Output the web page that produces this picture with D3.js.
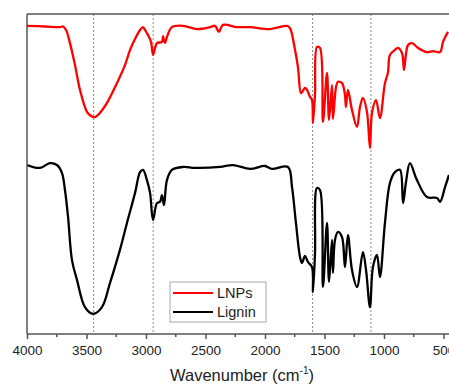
<!DOCTYPE html>
<html>
<head>
<meta charset="utf-8">
<script src="https://cdn.jsdelivr.net/npm/d3@7"></script>
<style>
  body { margin: 0; background: #fff; }
  svg { display: block; font-family: Arial, "Liberation Sans", sans-serif; }
</style>
</head>
<body>
<svg width="449" height="384"></svg>
<script>
// FTIR spectra, [wavenumber (cm-1), transmittance (a.u.)]
const lnps = [
  [4000, 96.3], [3849, 96.1], [3723, 95.9], [3697, 96.1], [3672, 95.0], [3639, 90.9],
  [3597, 84.1], [3555, 76.3], [3496, 69.4], [3462, 68.1], [3429, 67.8], [3387, 69.1],
  [3328, 72.2], [3244, 78.4], [3176, 84.1], [3134, 88.8], [3084, 92.8], [3050, 95.0],
  [3025, 95.9], [3008, 95.0], [2983, 93.4], [2958, 91.3], [2941, 87.2], [2924, 89.4],
  [2908, 90.9], [2866, 91.3], [2857, 93.1], [2849, 91.8], [2840, 90.9], [2824, 92.8],
  [2782, 95.9], [2689, 96.3], [2571, 95.3], [2462, 95.9], [2420, 96.3], [2387, 94.4],
  [2353, 96.6], [2235, 95.9], [2126, 95.9], [1958, 95.3], [1815, 96.3], [1790, 95.6],
  [1748, 88.8], [1723, 83.4], [1698, 75.3], [1681, 76.0], [1664, 76.9], [1647, 76.3],
  [1622, 74.1], [1605, 73.1], [1597, 65.9], [1580, 75.0], [1563, 89.7], [1538, 89.4],
  [1513, 66.3], [1479, 81.6], [1462, 66.9], [1437, 77.8], [1429, 67.2], [1403, 77.2],
  [1387, 78.8], [1353, 78.4], [1328, 74.7], [1320, 70.9], [1303, 76.3], [1269, 70.0],
  [1227, 64.7], [1202, 70.9], [1177, 73.8], [1143, 69.4], [1118, 58.1], [1101, 69.1],
  [1067, 73.1], [1034, 67.5], [992, 78.4], [967, 81.6], [950, 87.2], [908, 88.8],
  [883, 89.4], [849, 87.8], [832, 82.5], [815, 87.5], [798, 90.3], [765, 90.9],
  [714, 89.4], [639, 88.1], [588, 88.4], [529, 88.1], [504, 91.3], [462, 94.4]
];

const lignin = [
  [4000, 52.8], [3891, 51.9], [3807, 53.4], [3748, 52.8], [3706, 50.3], [3681, 45.0],
  [3655, 36.6], [3622, 23.1], [3580, 16.9], [3513, 8.4], [3445, 6.3], [3370, 8.4],
  [3303, 15.9], [3219, 26.3], [3160, 34.7], [3092, 44.1], [3050, 50.6], [3025, 51.3],
  [2992, 48.1], [2966, 44.1], [2941, 35.6], [2908, 40.9], [2882, 41.3], [2866, 43.4],
  [2849, 40.3], [2824, 48.1], [2782, 51.3], [2689, 52.2], [2588, 51.9], [2378, 52.2],
  [2269, 52.8], [2126, 51.6], [2000, 52.5], [1941, 51.6], [1807, 52.2], [1773, 45.9],
  [1740, 34.7], [1706, 24.1], [1689, 22.2], [1664, 24.4], [1639, 22.5], [1605, 20.9],
  [1597, 13.1], [1580, 25.0], [1563, 45.6], [1538, 45.0], [1513, 14.7], [1479, 34.7],
  [1462, 16.3], [1437, 29.4], [1429, 19.1], [1412, 29.4], [1387, 31.9], [1353, 30.3],
  [1328, 20.9], [1303, 30.9], [1269, 20.0], [1227, 14.7], [1177, 25.6], [1151, 20.0],
  [1118, 8.4], [1093, 20.9], [1059, 24.7], [1034, 17.8], [992, 34.7], [950, 47.2],
  [908, 50.6], [866, 51.3], [840, 40.9], [815, 47.5], [782, 53.4], [723, 48.1],
  [639, 42.8], [555, 42.5], [529, 41.3], [487, 45.9], [454, 49.7]
];

const markerLines = [3440, 2940, 1600, 1110];
const xTicks = [4000, 3500, 3000, 2500, 2000, 1500, 1000, 500];
const minorTicks = [3750, 3250, 2750, 2250, 1750, 1250, 750];

const series = [
  { name: 'LNPs', color: '#ff0000', values: lnps },
  { name: 'Lignin', color: '#000000', values: lignin }
];

const svg = d3.select('svg');
const W = 449;
const plotLeft = 27, plotTop = 14, plotBottom = 334;

const x = d3.scaleLinear().domain([4000, 500]).range([plotLeft, 443.5]);
const y = d3.scaleLinear().domain([0, 100]).range([plotBottom, plotTop]);

svg.append('clipPath').attr('id', 'clip')
  .append('rect').attr('x', plotLeft).attr('y', plotTop)
  .attr('width', W - plotLeft).attr('height', plotBottom - plotTop);

// dotted guide lines
svg.append('g').selectAll('line')
  .data(markerLines)
  .join('line')
  .attr('x1', d => x(d)).attr('x2', d => x(d))
  .attr('y1', plotTop).attr('y2', plotBottom)
  .attr('stroke', '#888')
  .attr('stroke-width', 1)
  .attr('stroke-dasharray', '2,2');

const line = d3.line()
  .x(d => x(d[0]))
  .y(d => y(d[1]))
  .curve(d3.curveCatmullRom.alpha(0.5));

svg.append('g').attr('clip-path', 'url(#clip)')
  .selectAll('path')
  .data(series)
  .join('path')
  .attr('d', d => line(d.values))
  .attr('fill', 'none')
  .attr('stroke', d => d.color)
  .attr('stroke-width', 2.3)
  .attr('stroke-linejoin', 'round');

// frame: top and left
svg.append('line')
  .attr('x1', plotLeft).attr('x2', W).attr('y1', plotTop).attr('y2', plotTop)
  .attr('stroke', '#555').attr('stroke-width', 1.5);
svg.append('line')
  .attr('x1', plotLeft).attr('x2', plotLeft).attr('y1', plotTop).attr('y2', plotBottom)
  .attr('stroke', '#555').attr('stroke-width', 1.5);

// bottom axis
const xAxis = svg.append('g')
  .attr('transform', `translate(0,${plotBottom})`)
  .call(d3.axisBottom(x).tickValues(xTicks).tickFormat(d3.format('d'))
    .tickSize(5).tickPadding(6).tickSizeOuter(0));
xAxis.select('.domain').attr('d', `M${plotLeft},0H${W}`).attr('stroke', '#555').attr('stroke-width', 1.5);
xAxis.selectAll('.tick line').attr('stroke', '#555').attr('stroke-width', 1.5);
xAxis.selectAll('.tick text')
  .attr('font-size', 13.5)
  .attr('fill', '#222');

xAxis.selectAll('.minor')
  .data(minorTicks)
  .join('line')
  .attr('class', 'minor')
  .attr('x1', d => x(d)).attr('x2', d => x(d))
  .attr('y1', 0).attr('y2', 3)
  .attr('stroke', '#555').attr('stroke-width', 1.5);

// axis title
const title = svg.append('text')
  .attr('x', 242).attr('y', 381)
  .attr('text-anchor', 'middle')
  .attr('font-size', 16.5)
  .attr('fill', '#222');
title.append('tspan').text('Wavenumber (cm');
title.append('tspan').attr('font-size', 10).attr('dy', -7).text('-1');
title.append('tspan').attr('dy', 7).text(')');

// legend
const legend = svg.append('g').attr('transform', 'translate(170,282)');
legend.append('rect')
  .attr('width', 96).attr('height', 40)
  .attr('fill', '#fff')
  .attr('stroke', '#aaa').attr('stroke-width', 1);
const item = legend.selectAll('.item')
  .data(series)
  .join('g')
  .attr('class', 'item')
  .attr('transform', (d, i) => `translate(0,${11 + i * 19})`);
item.append('line')
  .attr('x1', 3).attr('x2', 43)
  .attr('stroke', d => d.color).attr('stroke-width', 2);
item.append('text')
  .attr('x', 47).attr('y', 5)
  .attr('font-size', 14.5)
  .attr('fill', '#222')
  .text(d => d.name);
</script>
</body>
</html>
